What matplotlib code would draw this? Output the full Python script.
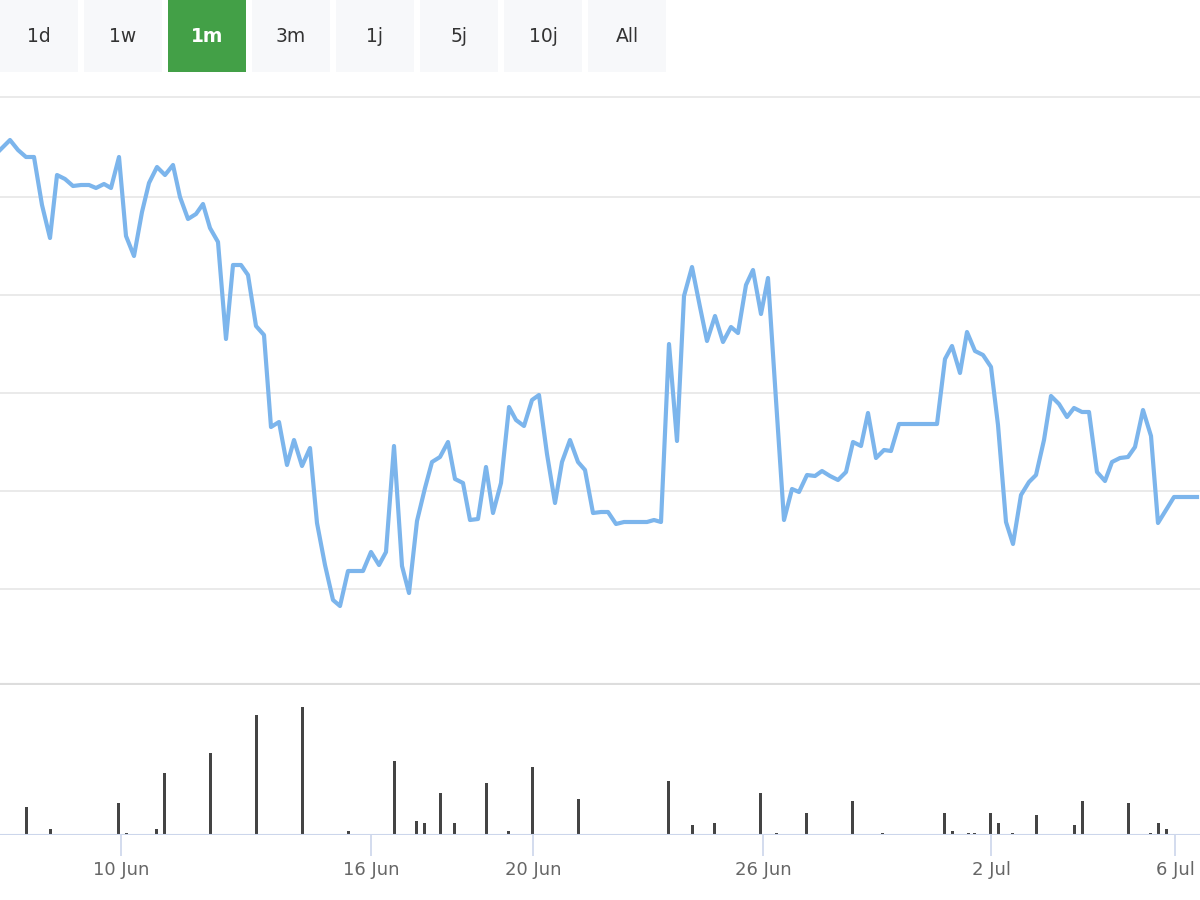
import matplotlib.pyplot as plt
from matplotlib.patches import Rectangle

# price line: x position (px), level (px from top of plot)
px = [0,10,18,26,34,42,50,57,65,73,81,89,96,104,111,119,126,134,142,149,157,165,173,180,188,196,203,210,218,226,233,241,248,256,264,271,279,287,294,302,310,317,325,333,340,348,356,363,371,379,386,394,402,409,417,425,432,440,448,455,463,470,478,486,493,501,509,516,524,532,539,547,555,562,570,578,585,593,601,608,616,624,631,639,647,654,661,669,677,684,692,700,707,715,723,731,738,746,753,761,768,776,784,792,799,807,815,822,830,838,846,853,861,868,876,884,891,899,907,914,922,930,937,945,952,960,967,975,983,991,998,1006,1013,1021,1029,1036,1044,1051,1059,1067,1074,1082,1089,1097,1105,1112,1120,1128,1135,1143,1151,1158,1166,1174,1181,1189,1197]
py = [150,140,150,157,157,205,238,175,179,186,185,185,188,184,188,157,236,256,212,183,167,175,165,197,219,214,204,228,242,339,265,265,275,326,335,427,422,465,440,466,448,523,565,600,606,571,571,571,552,565,552,446,566,593,521,488,462,457,442,479,483,520,519,467,513,483,407,420,426,400,395,454,503,462,440,462,470,513,512,512,524,522,522,522,522,520,522,344,441,296,267,307,341,316,342,327,333,285,270,314,278,400,520,489,492,475,476,471,476,480,472,442,446,413,458,450,451,424,424,424,424,424,424,359,346,373,332,351,355,367,425,522,544,495,482,475,440,396,404,417,408,412,412,472,481,462,458,457,447,410,436,523,510,497,497,497,497]

vol_x = [26,50,118,126,156,164,210,256,302,348,394,416,424,440,454,486,508,532,578,668,692,714,760,776,806,852,882,944,952,968,974,990,998,1012,1036,1074,1082,1128,1150,1158,1166]
vol_top = [806,828,802,832,828,772,752,714,706,830,760,820,822,792,822,782,830,766,798,780,824,822,792,832,812,800,832,812,830,832,832,812,822,832,814,824,800,802,832,822,828]
vol = [834 - t for t in vol_top]

tick_x = [121, 371, 533, 763, 991, 1175]
tick_labels = ["10 Jun", "16 Jun", "20 Jun", "26 Jun", "2 Jul", "6 Jul"]
buttons = ["1d", "1w", "1m", "3m", "1j", "5j", "10j", "All"]
active = "1m"

fig = plt.figure(figsize=(12, 9), dpi=100)
W, H = 1200, 900

# range buttons
for i, b in enumerate(buttons):
    x0 = i * 84
    on = b == active
    fig.patches.append(Rectangle((x0 / W, 1 - 72 / H), 78 / W, 72 / H, transform=fig.transFigure,
                                 facecolor="#43a047" if on else "#f7f8fa", edgecolor="none"))
    fig.text((x0 + 39) / W, 1 - 36 / H, b, ha="center", va="center", fontsize=13.5,
             color="white" if on else "#333333", fontweight="bold" if on else "normal")

# main chart
ax = fig.add_axes([0, (H - 685) / H, 1, 613 / H])
ax.plot(px, py, color="#7cb5ec", lw=3)
ax.set_xlim(0, 1200)
ax.set_ylim(685, 72)
for g in [97, 197, 295, 393, 491, 589]:
    ax.axhline(g, color="#e6e6e6", lw=1.2, zorder=0)
ax.axhline(685, color="#dddddd", lw=3)
ax.set_xticks([]); ax.set_yticks([])
for s in ax.spines.values():
    s.set_visible(False)

# volume
axv = fig.add_axes([0, (H - 835) / H, 1, 147 / H])
axv.bar(vol_x, vol, width=3, color="#444444")
axv.set_xlim(0, 1200)
axv.set_ylim(0, 147)
axv.set_yticks([])
for s in axv.spines.values():
    s.set_visible(False)
axv.axhline(0, color="#ccd6eb", lw=1.5)
axv.set_xticks(tick_x)
axv.set_xticklabels(tick_labels, fontsize=13, color="#666666")
axv.tick_params(axis="x", length=15, color="#ccd6eb", width=1.2, pad=4)

fig.savefig("out.png")
